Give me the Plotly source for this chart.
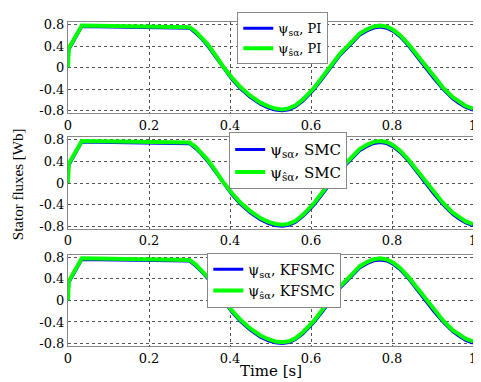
import plotly.graph_objects as go

# Time samples (s)
time_s = [0, 0.002, 0.034, 0.30, 0.315, 0.33, 0.345, 0.365, 0.382, 0.405,
          0.427, 0.45, 0.475, 0.495, 0.512, 0.529, 0.545, 0.562, 0.58, 0.607,
          0.628, 0.648, 0.672, 0.697, 0.72, 0.738, 0.755, 0.771, 0.787, 0.803,
          0.82, 0.84, 0.861, 0.881, 0.903, 0.926, 0.95, 0.965, 0.982, 1.0]

# Measured stator flux psi_s_alpha (Wb)
psi_meas = [0, 0.33, 0.76, 0.73, 0.64, 0.53, 0.40, 0.19, 0.0, -0.22,
            -0.40, -0.55, -0.68, -0.75, -0.787, -0.80, -0.782, -0.725, -0.62, -0.41,
            -0.21, 0.0, 0.23, 0.42, 0.60, 0.68, 0.733, 0.75, 0.73, 0.67,
            0.57, 0.41, 0.21, 0.0, -0.20, -0.40, -0.58, -0.66, -0.74, -0.79]

# Estimated stator flux psi_hat_s_alpha (Wb)
psi_est = [0, 0.36, 0.78, 0.75, 0.67, 0.56, 0.43, 0.22, 0.03, -0.19,
           -0.37, -0.52, -0.65, -0.72, -0.76, -0.775, -0.757, -0.70, -0.59, -0.38,
           -0.18, 0.03, 0.26, 0.45, 0.63, 0.71, 0.763, 0.78, 0.76, 0.70,
           0.60, 0.44, 0.24, 0.03, -0.17, -0.37, -0.55, -0.63, -0.71, -0.76]

controllers = ["PI", "SMC", "KFSMC"]

x_ticks = [0, 0.2, 0.4, 0.6, 0.8, 1]
x_ticktext = ["0", "0.2", "0.4", "0.6", "0.8", "1"]
y_ticks = [-0.8, -0.4, 0, 0.4, 0.8]
y_ticktext = ["-0.8", "-0.4", "0", "0.4", "0.8"]

FONT = "DejaVu Serif"
FONT_V = "Liberation Serif"
domains = [[0.7186, 1.0], [0.3623, 0.6437], [0.0, 0.2814]]
legend_pos = [(0.418, 1.03), (0.398, 0.66), (0.344, 0.288)]
legend_size = [13, 15, 14]

fig = go.Figure()
for i, ctrl in enumerate(controllers):
    n = i + 1
    xa = "x" if n == 1 else f"x{n}"
    ya = "y" if n == 1 else f"y{n}"
    lg = "legend" if n == 1 else f"legend{n}"
    fig.add_trace(go.Scatter(x=time_s, y=psi_meas, mode="lines",
                             line=dict(color="#0000ff", width=3),
                             name=f"ψ<sub>sα</sub>, {ctrl}", xaxis=xa, yaxis=ya,
                             legend=lg))
    fig.add_trace(go.Scatter(x=time_s, y=psi_est, mode="lines",
                             line=dict(color="#00ff00", width=4),
                             name=f"ψ<sub>ŝα</sub>, {ctrl}", xaxis=xa, yaxis=ya,
                             legend=lg))

# The page adds an 8 px body margin, so the figure is sized to fit the 481x382 window
layout = dict(
    width=473, height=374,
    margin=dict(l=60, r=6, t=4, b=36),
    paper_bgcolor="white", plot_bgcolor="white",
    font=dict(family=FONT, size=13, color="black"),
    showlegend=True,
)
for i in range(3):
    n = i + 1
    xk = "xaxis" if n == 1 else f"xaxis{n}"
    yk = "yaxis" if n == 1 else f"yaxis{n}"
    lk = "legend" if n == 1 else f"legend{n}"
    layout[xk] = dict(range=[0, 1], tickvals=x_ticks, ticktext=x_ticktext,
                      anchor="y" if n == 1 else f"y{n}",
                      showgrid=True, gridcolor="#555", griddash="dot", gridwidth=1,
                      showline=True, linecolor="#888", linewidth=1, mirror=True,
                      zeroline=False, ticks="", tickfont=dict(family=FONT, size=13))
    layout[yk] = dict(range=[-0.845, 0.845], tickvals=y_ticks, ticktext=y_ticktext,
                      domain=domains[i], anchor="x" if n == 1 else f"x{n}",
                      showgrid=True, gridcolor="#555", griddash="dot", gridwidth=1,
                      showline=True, linecolor="#888", linewidth=1, mirror=True,
                      zeroline=False, ticks="", tickfont=dict(family=FONT, size=13))
    lx, ly = legend_pos[i]
    layout[lk] = dict(x=lx, y=ly, xanchor="left", yanchor="top",
                      bgcolor="white", bordercolor="#888", borderwidth=1,
                      font=dict(family=FONT, size=legend_size[i], color="black"))

fig.update_layout(**layout)

fig.add_annotation(text="Time [s]", xref="paper", yref="paper", x=0.5, y=-0.076,
                   xanchor="center", yanchor="middle", showarrow=False,
                   font=dict(family=FONT, size=15))
fig.add_annotation(text="Stator fluxes [Wb]", xref="paper", yref="paper", x=-0.123, y=0.5,
                   textangle=-90, xanchor="center", yanchor="middle", showarrow=False,
                   font=dict(family=FONT_V, size=15))

fig.write_html("out.html")
